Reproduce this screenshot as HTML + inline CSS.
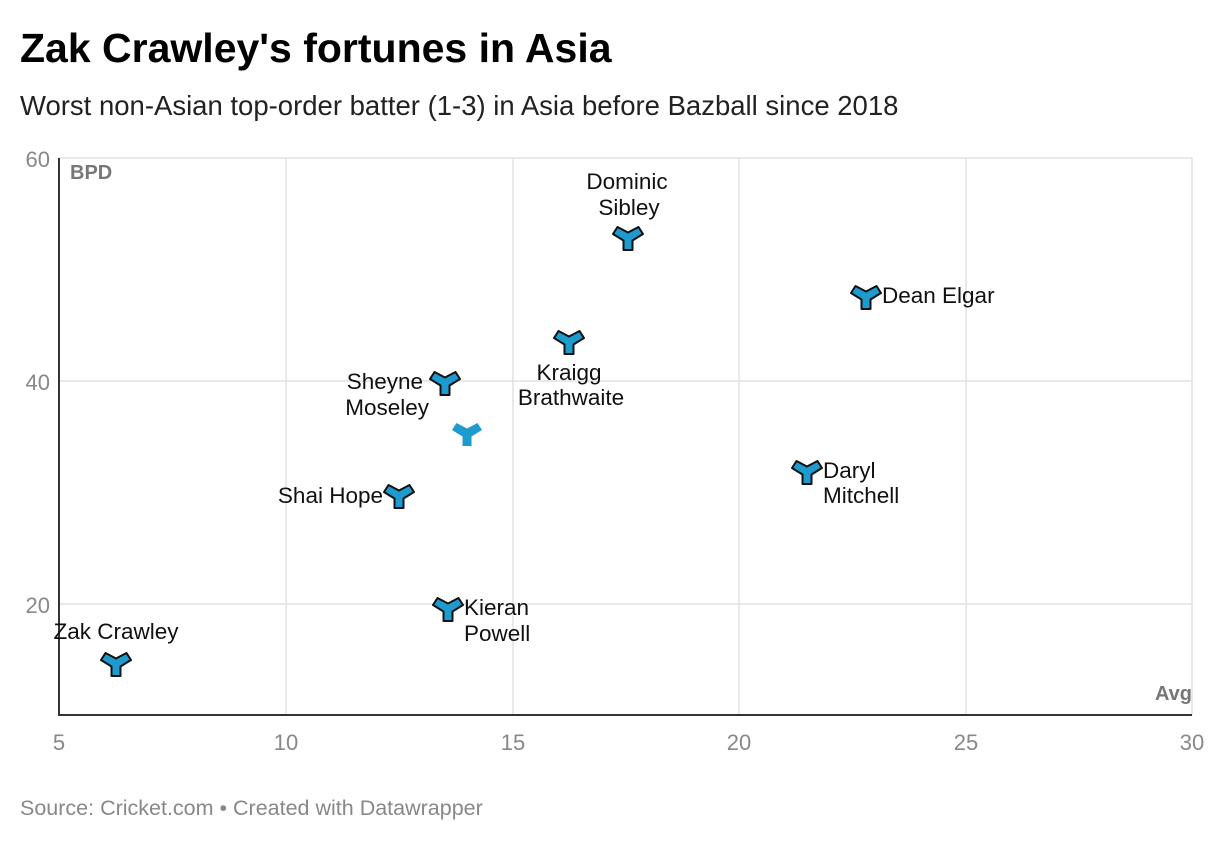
<!DOCTYPE html>
<html><head><style>
body{margin:0;background:#fff;font-family:"Liberation Sans",sans-serif}
</style></head><body>
<svg width="1228" height="842" xmlns="http://www.w3.org/2000/svg" font-family="Liberation Sans, sans-serif">
<defs>
<path id="m" d="M-4.5,13 L4.5,13 L4.5,3.5 L15,-3 L10.5,-10 L0,-4.5 L-10.5,-10 L-15,-3 L-4.5,3.5 Z"/>
</defs>
<text x="20" y="62" font-size="41" font-weight="bold" fill="#000">Zak Crawley's fortunes in Asia</text>
<text x="20" y="115" font-size="27.5" fill="#222">Worst non-Asian top-order batter (1-3) in Asia before Bazball since 2018</text>
<g stroke="#e2e2e2" stroke-width="1.5">
<line x1="59" y1="158" x2="1192" y2="158"/>
<line x1="59" y1="381" x2="1192" y2="381"/>
<line x1="59" y1="604" x2="1192" y2="604"/>
<line x1="286" y1="158" x2="286" y2="715"/>
<line x1="513" y1="158" x2="513" y2="715"/>
<line x1="739" y1="158" x2="739" y2="715"/>
<line x1="966" y1="158" x2="966" y2="715"/>
<line x1="1192" y1="158" x2="1192" y2="715"/>
</g>
<line x1="59" y1="158" x2="59" y2="716" stroke="#333" stroke-width="2"/>
<line x1="58" y1="715" x2="1192" y2="715" stroke="#333" stroke-width="2"/>
<g font-size="22" fill="#888" text-anchor="end">
<text x="50" y="167">60</text><text x="50" y="390">40</text><text x="50" y="613">20</text>
</g>
<g font-size="22" fill="#888" text-anchor="middle">
<text x="59" y="750">5</text><text x="286" y="750">10</text><text x="513" y="750">15</text><text x="739" y="750">20</text><text x="966" y="750">25</text><text x="1192" y="750">30</text>
</g>
<text x="70" y="179" font-size="20" font-weight="bold" fill="#777">BPD</text>
<text x="1192" y="700" font-size="20" font-weight="bold" fill="#777" text-anchor="end">Avg</text>
<g fill="#1d9bcf" stroke="#111" stroke-width="2" stroke-linejoin="round">
<use href="#m" x="628" y="237"/>
<use href="#m" x="866" y="296"/>
<use href="#m" x="569" y="341"/>
<use href="#m" x="445" y="382"/>
<use href="#m" x="399" y="495"/>
<use href="#m" x="807" y="471"/>
<use href="#m" x="448" y="608"/>
<use href="#m" x="116" y="663"/>
</g>
<use href="#m" x="467" y="433" fill="#1d9bcf"/>
<g font-size="22.5" fill="#111">
<text x="627" y="189" text-anchor="middle">Dominic</text>
<text x="629" y="215" text-anchor="middle">Sibley</text>
<text x="882" y="303">Dean Elgar</text>
<text x="569" y="380" text-anchor="middle">Kraigg</text>
<text x="571" y="405" text-anchor="middle">Brathwaite</text>
<text x="423" y="389" text-anchor="end">Sheyne</text>
<text x="429" y="415" text-anchor="end">Moseley</text>
<text x="383" y="503" text-anchor="end">Shai Hope</text>
<text x="823" y="478">Daryl</text>
<text x="823" y="503">Mitchell</text>
<text x="464" y="615">Kieran</text>
<text x="464" y="641">Powell</text>
<text x="116" y="639" text-anchor="middle">Zak Crawley</text>
</g>
<text x="20" y="815" font-size="21.5" fill="#888">Source: Cricket.com • Created with Datawrapper</text>
</svg>
</body></html>
